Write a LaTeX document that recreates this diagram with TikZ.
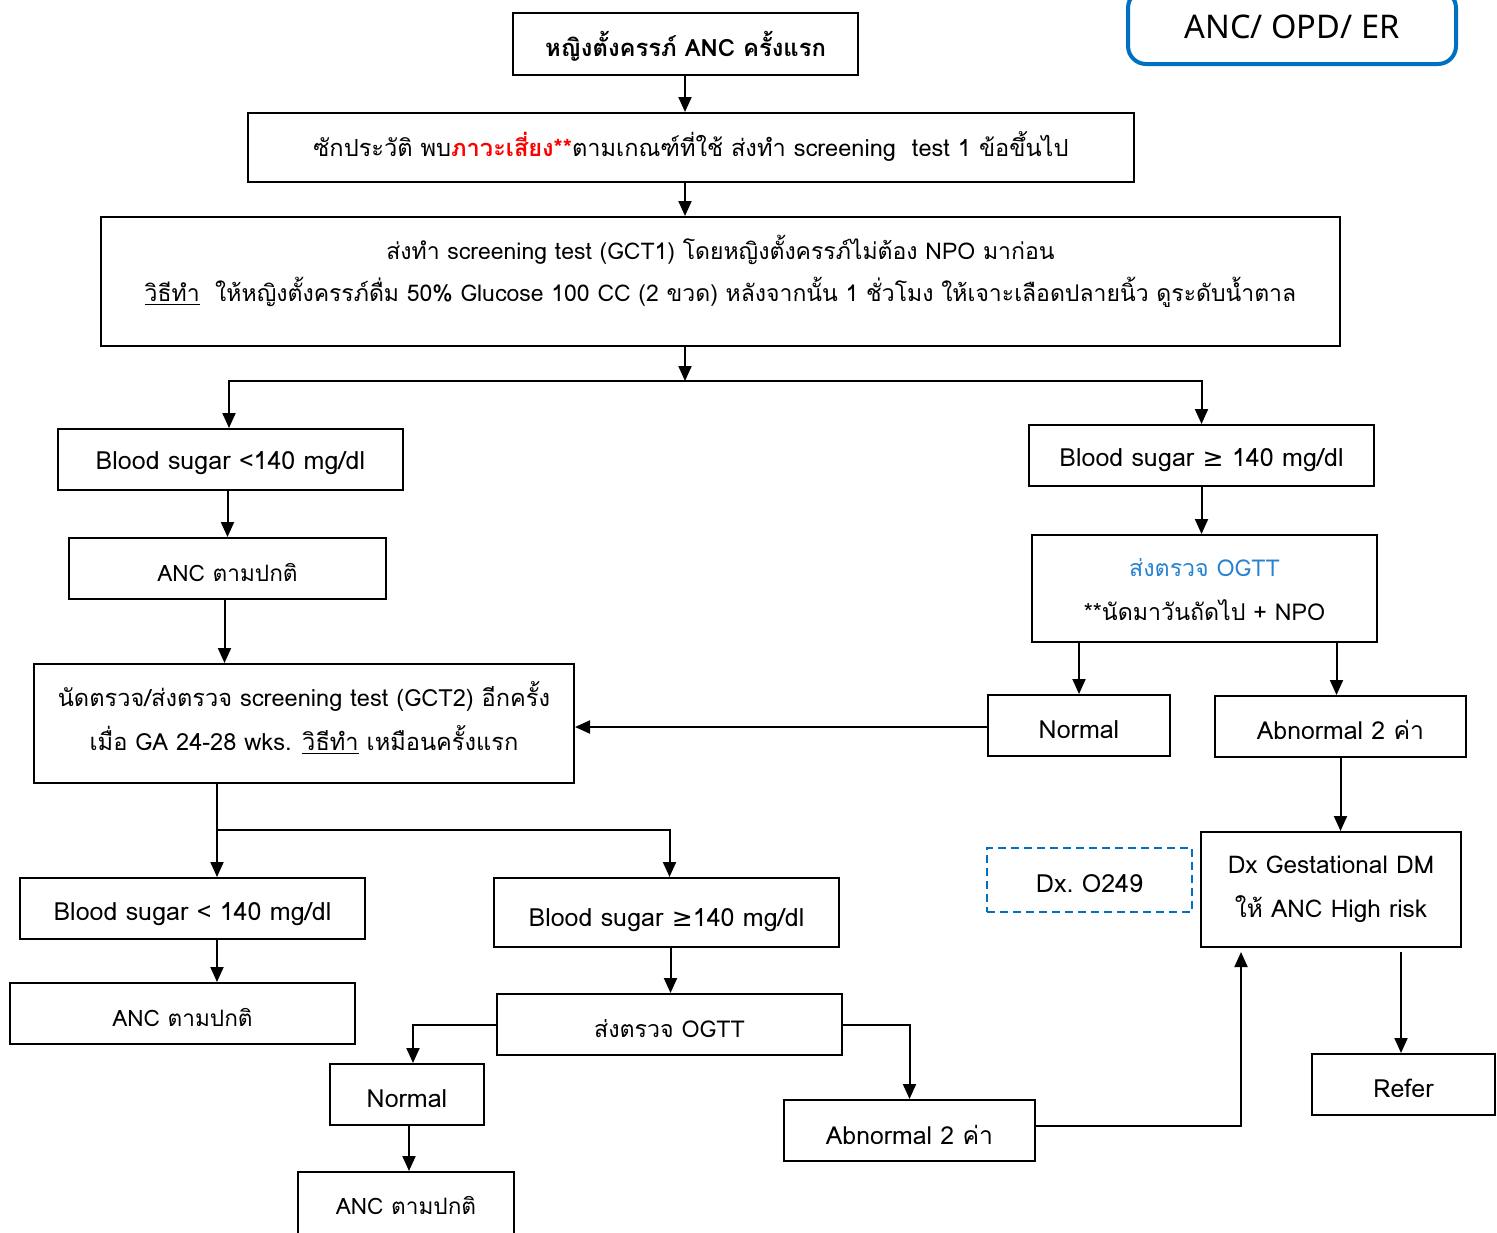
\documentclass[tikz,border=0pt]{standalone}
\usepackage{fontspec}
\setmainfont[Script=Thai]{Loma}
\newfontfamily\symfont{DejaVu Sans}
\newfontfamily\headfont{Noto Sans}
\usetikzlibrary{arrows.meta}
\definecolor{myblue}{RGB}{0,112,192}
\definecolor{txtblue}{RGB}{40,130,210}
\definecolor{myred}{RGB}{255,0,0}
\newcommand\mygesym{{\symfont ≥}}
\newcommand\fs[1]{\fontsize{#1}{22}\selectfont}
\newcommand\bx[8][]{%
  \pgfmathsetmacro\bw{(#5-#3)*0.5}%
  \pgfmathsetmacro\bh{(#6-#4)*0.5}%
  \node[frame,#1,minimum width=\bw pt,minimum height=\bh pt] (#2) at ({(#3+#5)/2},{(#4+#6)/2}) {};
  \node[txt,#7] (#2-t) at (#2.center) {#8};}
\tikzset{
  frame/.style={draw,line width=1pt,rectangle,inner sep=0pt},
  txt/.style={align=center,inner sep=0pt,font=\fs{12.5},yshift=-2pt},
  arr/.style={line width=1pt,-{Triangle[length=7.5pt,width=6.5pt]}},
  ln/.style={line width=1pt},
}
\begin{document}
\begin{tikzpicture}[x=0.5pt,y=-0.5pt]
\useasboundingbox (0,0) rectangle (1497,1232);
\clip (0,0) rectangle (1497,1232);
% boxes
\bx{top}{513}{13}{858}{75}{font=\fs{11.9}\bfseries,yshift=1pt}{หญิงตั้งครรภ์ ANC ครั้งแรก}
\bx{b2}{248}{113}{1134}{182}{font=\fs{11.8},yshift=2.5pt}{ซักประวัติ พบ{\bfseries\color{myred}ภาวะเสี่ยง**}ตามเกณฑ์ที่ใช้ ส่งทำ screening~ test 1 ข้อขึ้นไป}
\bx{b3}{101}{217}{1340}{346}{font=\fontsize{11.5}{21}\selectfont,yshift=7.25pt}{ส่งทำ screening test (GCT1) โดยหญิงตั้งครรภ์ไม่ต้อง NPO มาก่อน\\ \underline{วิธีทำ}~~ให้หญิงตั้งครรภ์ดื่ม 50\% Glucose 100 CC (2 ขวด) หลังจากนั้น 1 ชั่วโมง ให้เจาะเลือดปลายนิ้ว ดูระดับน้ำตาล}
\node[draw=myblue,line width=2pt,rounded corners=9pt,minimum width=164pt,minimum height=37pt,inner sep=0pt,font=\headfont\fontsize{16.3}{18}\selectfont] (hdr) at (1292,27) {ANC/ OPD/ ER};
\bx{bsL}{58}{429}{403}{490}{}{Blood sugar <140 mg/dl}
\bx{bsR}{1029}{425}{1374}{486}{yshift=-0.5pt}{Blood sugar \mygesym{} 140 mg/dl}
\bx{ancL1}{69}{538}{386}{599}{font=\fs{11.3}}{ANC ตามปกติ}
\bx{gct2}{34}{664}{574}{783}{font=\fs{11.8},yshift=4.5pt}{นัดตรวจ/ส่งตรวจ screening test (GCT2) อีกครั้ง\\ เมื่อ GA 24-28 wks. \underline{วิธีทำ} เหมือนครั้งแรก}
\bx{ogttR}{1032}{535}{1377}{642}{font=\fs{11.6},yshift=1.5pt}{{\color{txtblue}ส่งตรวจ OGTT}\\ **นัดมาวันถัดไป + NPO}
\bx{normR}{988}{695}{1170}{756}{}{Normal}
\bx{abnR}{1215}{696}{1466}{757}{font=\fs{12.4},yshift=0.5pt}{Abnormal 2 ค่า}
\bx{dx}{1201}{832}{1461}{947}{font=\fs{12.2},yshift=2pt}{Dx Gestational DM\\ ให้ ANC High risk}
\bx[draw=myblue,dashed,dash pattern=on 4pt off 2.5pt]{dxc}{987}{848}{1192}{912}{}{Dx.\ O249}
\bx{refer}{1312}{1054}{1495}{1115}{}{Refer}
\bx{bsL2}{20}{878}{365}{939}{yshift=-1pt}{Blood sugar < 140 mg/dl}
\bx{bsR2}{494}{878}{839}{947}{yshift=-2pt}{Blood sugar \mygesym140 mg/dl}
\bx{ancL2}{10}{983}{355}{1044}{font=\fs{11.3}}{ANC ตามปกติ}
\bx{ogtt2}{497}{994}{842}{1055}{font=\fs{11.6}}{ส่งตรวจ OGTT}
\bx{norm2}{330}{1064}{484}{1125}{}{Normal}
\bx{anc3}{298}{1172}{514}{1240}{font=\fs{11.3},yshift=2.5pt}{ANC ตามปกติ}
\bx{abn2}{784}{1100}{1035}{1161}{font=\fs{12.4}}{Abnormal 2 ค่า}
% coordinates
\coordinate (j1) at (685,381);
\coordinate (j2) at (217,830);
\coordinate (rs) at (1401,952);
\coordinate (up) at (1241,952);
% connectors
\draw[arr] (j1 |- top.south) -- (j1 |- b2.north);
\draw[arr] (j1 |- b2.south) -- (j1 |- b3.north);
\draw[arr] (j1 |- b3.south) -- (j1);
\draw[arr] (j1) -| ([xshift=-0.75pt]bsL.north);
\draw[arr] (j1) -| (bsR.north);
\draw[arr] (ancL1.north |- bsL.south) -- (ancL1.north);
\draw[arr] ([xshift=-1.5pt]ancL1.south) -- ([xshift=-1.5pt]ancL1.south |- gct2.north);
\draw[arr] (bsR.south) -- (bsR.south |- ogttR.north);
\draw[arr] (normR.north |- ogttR.south) -- (normR.north);
\draw[arr] ([xshift=-2pt]abnR.north |- ogttR.south) -- ([xshift=-2pt]abnR.north);
\draw[arr] ([yshift=-0.75pt]normR.west) -- ([yshift=-0.75pt]normR.west -| gct2.east);
\draw[arr] (abnR.south) -- (abnR.south |- dx.north);
\draw[arr] (rs) -- (rs |- refer.north);
\draw[ln] (j2 |- gct2.south) -- (j2);
\draw[arr] (j2) -- (j2 |- bsL2.north);
\draw[arr] (j2) -| ([xshift=1.5pt]bsR2.north);
\draw[arr] (j2 |- bsL2.south) -- (j2 |- ancL2.north);
\draw[arr] ([xshift=2pt]bsR2.south) -- ([xshift=2pt]bsR2.south |- ogtt2.north);
\draw[arr] (ogtt2.west) -| ([xshift=3pt]norm2.north);
\draw[arr] ([xshift=1pt]norm2.south) -- ([xshift=1pt]norm2.south |- anc3.north);
\draw[arr] (ogtt2.east) -| (abn2.north);
\draw[arr] ([yshift=2.5pt]abn2.east) -| (up);
\end{tikzpicture}
\end{document}
